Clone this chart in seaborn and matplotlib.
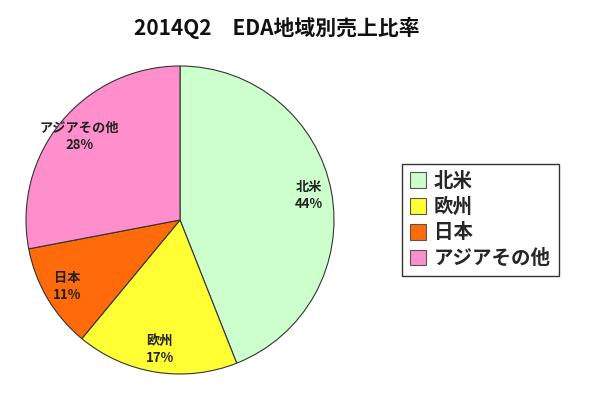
import matplotlib
matplotlib.use("Agg")
import matplotlib.pyplot as plt
import seaborn as sns

sns.set_theme(style="white")
plt.rcParams['font.family'] = ['Noto Sans CJK JP', 'DejaVu Sans']

categories = ["北米", "欧州", "日本", "アジアその他"]
values = [44, 17, 11, 28]
colors = ["#CCFFCC", "#FFFF33", "#FF6A0A", "#FF8FCC"]
title = "2014Q2　EDA地域別売上比率"

W, H = 600, 405
fig = plt.figure(figsize=(W / 100, H / 100), dpi=100)
fig.patch.set_facecolor("white")

cx, cy, r = 180, 220, 154
ax = fig.add_axes([(cx - r) / W, 1 - (cy + r) / H, 2 * r / W, 2 * r / H])

labels_iter = iter(categories)
wedges, texts, autotexts = ax.pie(
    values, colors=colors, startangle=90, counterclock=False,
    wedgeprops=dict(edgecolor="#333333", linewidth=0.8),
    autopct=lambda p: f"{next(labels_iter)}\n{p:.0f}%",
    pctdistance=0.85,
    textprops=dict(fontsize=9.5, fontweight="bold", color="#222222", linespacing=1.3),
)
ax.set_aspect("equal")
ax.set_xlim(-1, 1)
ax.set_ylim(-1, 1)

fig.text(277 / W, 1 - 28 / H, title, ha="center", va="center",
         fontsize=15, fontweight="bold", color="#111111")

leg = fig.legend(wedges, categories, loc="center left",
                 bbox_to_anchor=(402 / W, 1 - 220 / H),
                 fontsize=14, frameon=True, fancybox=False,
                 handlelength=0.85, handleheight=0.85, handletextpad=0.4,
                 labelspacing=0.35, borderpad=0.4, borderaxespad=0)
leg.get_frame().set_edgecolor("black")
leg.get_frame().set_linewidth(1.0)
for t in leg.get_texts():
    t.set_fontweight("bold")
for h in leg.legend_handles:
    h.set_edgecolor("#555555")
    h.set_linewidth(0.8)

fig.savefig("out.png", dpi=100, facecolor="white")
